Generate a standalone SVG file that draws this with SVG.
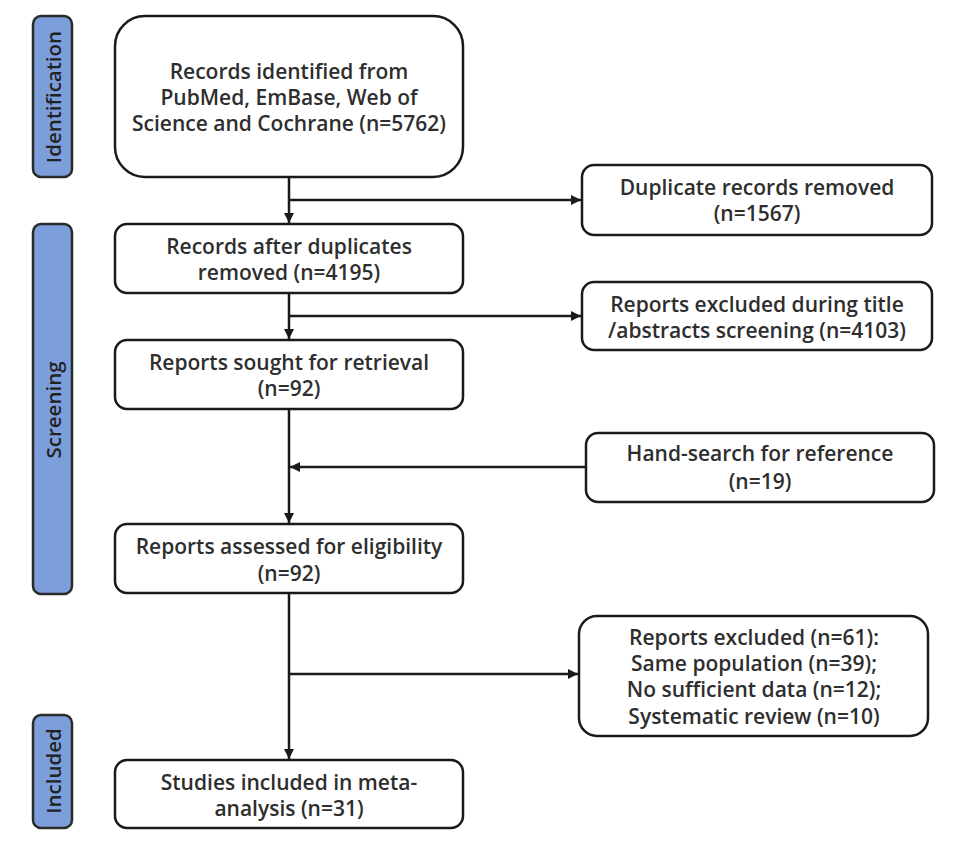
<svg xmlns="http://www.w3.org/2000/svg" width="960" height="849" viewBox="0 0 960 849">
<style>
  .box { fill: #ffffff; stroke: #1a1a1a; stroke-width: 2.5; }
  .stage { fill: #7c9fdc; stroke: #2a2a2a; stroke-width: 2.5; }
  .t { font-family: "Open Sans", "Noto Sans", "Liberation Sans", sans-serif; font-size: 21px; font-weight: 600; fill: #2e2e2e; text-anchor: middle; dominant-baseline: central; }
  .st { font-family: "Open Sans", "Noto Sans", "Liberation Sans", sans-serif; font-size: 20.5px; font-weight: 600; fill: #222222; text-anchor: middle; dominant-baseline: central; }
  .line { fill: none; stroke: #1a1a1a; stroke-width: 2.5; }
</style>
<defs>
  <marker id="arr" viewBox="0 0 10 10" refX="10" refY="5" markerWidth="4" markerHeight="4" orient="auto" markerUnits="strokeWidth">
    <path d="M0,0 L10,5 L0,10 z" fill="#1a1a1a"/>
  </marker>
</defs>
<rect width="960" height="849" fill="#ffffff"/>

<g id="stage-identification">
  <rect class="stage" x="33" y="16" width="39" height="161" rx="8"/>
  <text class="st" transform="translate(53,97) rotate(-90)">Identification</text>
</g>
<g id="stage-screening">
  <rect class="stage" x="33" y="224" width="39" height="370" rx="8"/>
  <text class="st" transform="translate(53,410) rotate(-90)">Screening</text>
</g>
<g id="stage-included">
  <rect class="stage" x="33" y="715" width="39" height="113" rx="8"/>
  <text class="st" transform="translate(53,771) rotate(-90)">Included</text>
</g>

<g id="connectors">
  <line class="line" x1="289" y1="177" x2="289" y2="223" marker-end="url(#arr)"/>
  <line class="line" x1="289" y1="200" x2="581" y2="200" marker-end="url(#arr)"/>
  <line class="line" x1="289" y1="293" x2="289" y2="339" marker-end="url(#arr)"/>
  <line class="line" x1="289" y1="316" x2="581" y2="316" marker-end="url(#arr)"/>
  <line class="line" x1="289" y1="409" x2="289" y2="523" marker-end="url(#arr)"/>
  <line class="line" x1="586" y1="467" x2="290" y2="467" marker-end="url(#arr)"/>
  <line class="line" x1="289" y1="593" x2="289" y2="759" marker-end="url(#arr)"/>
  <line class="line" x1="289" y1="674" x2="578" y2="674" marker-end="url(#arr)"/>
</g>

<g id="n-identified">
  <rect class="box" x="115" y="16" width="348" height="161" rx="30"/>
  <text class="t" x="289" y="71">Records identified from</text>
  <text class="t" x="289" y="97">PubMed, EmBase, Web of</text>
  <text class="t" x="289" y="123">Science and Cochrane (n=5762)</text>
</g>
<g id="n-duplicates">
  <rect class="box" x="582" y="165" width="350" height="70" rx="12"/>
  <text class="t" x="757" y="187">Duplicate records removed</text>
  <text class="t" x="757" y="213">(n=1567)</text>
</g>
<g id="n-after-dup">
  <rect class="box" x="115" y="224" width="348" height="69" rx="12"/>
  <text class="t" x="289" y="246">Records after duplicates</text>
  <text class="t" x="289" y="272">removed (n=4195)</text>
</g>
<g id="n-excluded-title">
  <rect class="box" x="582" y="282" width="350" height="68" rx="12"/>
  <text class="t" x="757" y="304">Reports excluded during title</text>
  <text class="t" x="757" y="330">/abstracts screening (n=4103)</text>
</g>
<g id="n-sought">
  <rect class="box" x="115" y="340" width="348" height="69" rx="12"/>
  <text class="t" x="289" y="362">Reports sought for retrieval</text>
  <text class="t" x="289" y="388">(n=92)</text>
</g>
<g id="n-hand">
  <rect class="box" x="586" y="433" width="348" height="69" rx="12"/>
  <text class="t" x="760" y="453">Hand-search for reference</text>
  <text class="t" x="760" y="481">(n=19)</text>
</g>
<g id="n-assessed">
  <rect class="box" x="115" y="524" width="348" height="69" rx="12"/>
  <text class="t" x="289" y="546">Reports assessed for eligibility</text>
  <text class="t" x="289" y="573">(n=92)</text>
</g>
<g id="n-excluded">
  <rect class="box" x="579" y="616" width="349" height="120" rx="18"/>
  <text class="t" x="754" y="637">Reports excluded (n=61):</text>
  <text class="t" x="754" y="663">Same population (n=39);</text>
  <text class="t" x="754" y="689">No sufficient data (n=12);</text>
  <text class="t" x="754" y="716">Systematic review (n=10)</text>
</g>
<g id="n-included">
  <rect class="box" x="115" y="760" width="348" height="68" rx="12"/>
  <text class="t" x="289" y="782">Studies included in meta-</text>
  <text class="t" x="289" y="808">analysis (n=31)</text>
</g>
</svg>
